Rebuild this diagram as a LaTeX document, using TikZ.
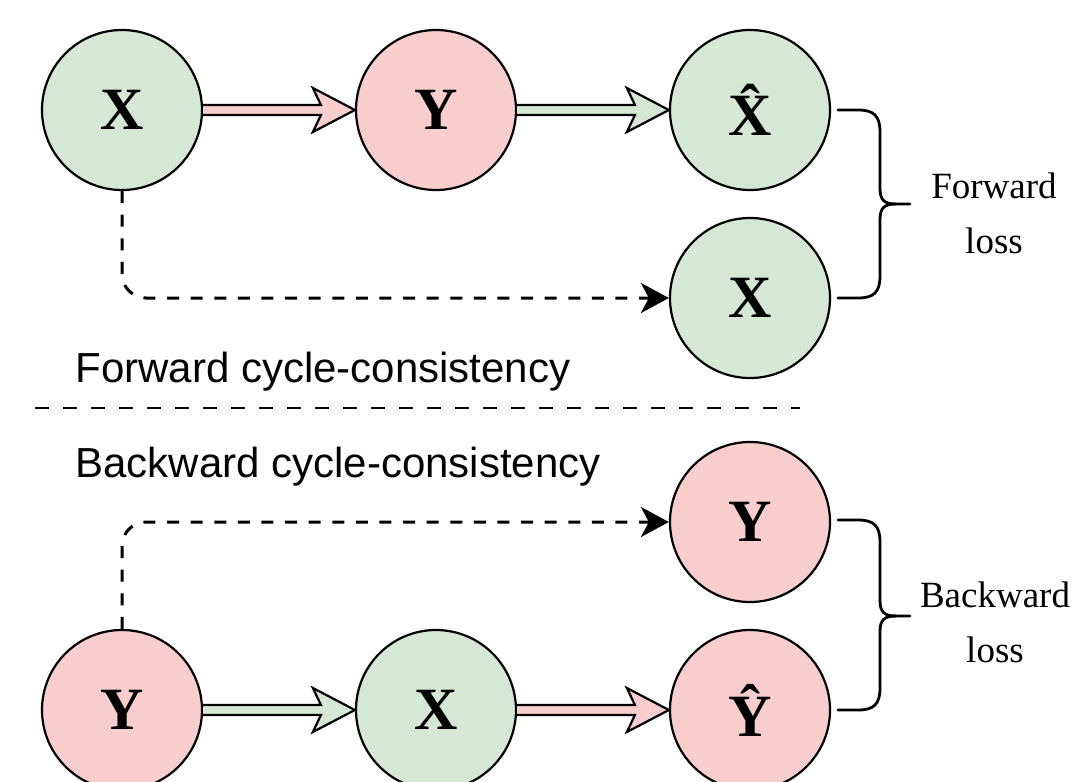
\documentclass[tikz,border=0pt]{standalone}
\usepackage{fontspec}
\setmainfont{Liberation Serif}
\newfontfamily\capsans{Liberation Sans}
\usetikzlibrary{arrows.meta,calc}
\definecolor{gfill}{HTML}{D5E8D4}
\definecolor{rfill}{HTML}{F8CECC}
\newcommand\flexarr[3]{%
  \draw[line width=1.1pt,fill=#1,line join=miter]
    ($(#2.east)+(0,-5)$) -- ($(#3.west)+(-34,-5)$) -- ($(#3.west)+(-42,-22)$)
    -- (#3.west) -- ($(#3.west)+(-42,22)$) -- ($(#3.west)+(-34,5)$) -- ($(#2.east)+(0,5)$);}
\begin{document}
\begin{tikzpicture}[x=0.5pt,y=-0.5pt,
  ball/.style={circle,draw=black,line width=1.1pt,minimum size=80pt,inner sep=0pt,
    font=\fontsize{30}{36}\selectfont\bfseries},
  gball/.style={ball,fill=gfill},
  rball/.style={ball,fill=rfill},
  dashconn/.style={line width=1.5pt,dash pattern=on 6pt off 5.8pt,rounded corners=12pt,
    -{Stealth[length=14pt,width=15pt,inset=4pt]}},
  sepline/.style={line width=1.4pt,dash pattern=on 7pt off 7pt},
  bracepath/.style={line width=1.4pt,line join=round,line cap=round},
  losslabel/.style={align=center,inner sep=0pt,font=\fontsize{18.5}{27.5}\selectfont},
  caption/.style={anchor=base west,inner sep=0pt,font=\capsans\fontsize{21}{25}\selectfont}
]
\useasboundingbox (0,0) rectangle (1083,782);

% nodes
\node[gball] (x1) at (122,110) {X};
\node[rball] (y1) at (436,110) {Y};
\node[gball] (xh) at (750,110) {\^{X}};
\node[gball] (x2) at (750,298) {X};
\node[rball] (y2) at (750,522) {Y};
\node[rball] (y3) at (122,710) {Y};
\node[gball] (x3) at (436,710) {X};
\node[rball] (yh) at (750,710) {\^{Y}};

% flex arrows
\flexarr{rfill}{x1}{y1}
\flexarr{gfill}{y1}{xh}
\flexarr{gfill}{y3}{x3}
\flexarr{rfill}{x3}{yh}

% dashed connectors
\draw[dashconn] (x1.south) -- (x1.south |- x2.west) -- (x2.west);
\draw[dashconn] (y3.north) -- (y3.north |- y2.west) -- (y2.west);

% separator
\draw[sepline] (35,408) -- (800,408);

% captions
\node[caption] (fcap) at (75,382) {Forward cycle-consistency};
\node[caption] (bcap) at (75,477) {Backward cycle-consistency};

% forward brace
\draw[bracepath] (838,110) -- (858,110) .. controls (874,110) and (880,116) .. (880,132)
  -- (880,188) .. controls (880,200) and (884,204) .. (896,204) -- (910,204);
\draw[bracepath] (838,298) -- (858,298) .. controls (874,298) and (880,292) .. (880,276)
  -- (880,220) .. controls (880,208) and (884,204) .. (896,204);
\node[losslabel] (floss) at (994,213) {Forward\\loss};

% backward brace
\draw[bracepath] (838,520) -- (858,520) .. controls (874,520) and (880,526) .. (880,542)
  -- (880,600) .. controls (880,612) and (884,616) .. (896,616) -- (910,616);
\draw[bracepath] (838,710) -- (858,710) .. controls (874,710) and (880,704) .. (880,688)
  -- (880,632) .. controls (880,620) and (884,616) .. (896,616);
\node[losslabel] (bloss) at (995,622) {Backward\\loss};
\end{tikzpicture}
\end{document}
